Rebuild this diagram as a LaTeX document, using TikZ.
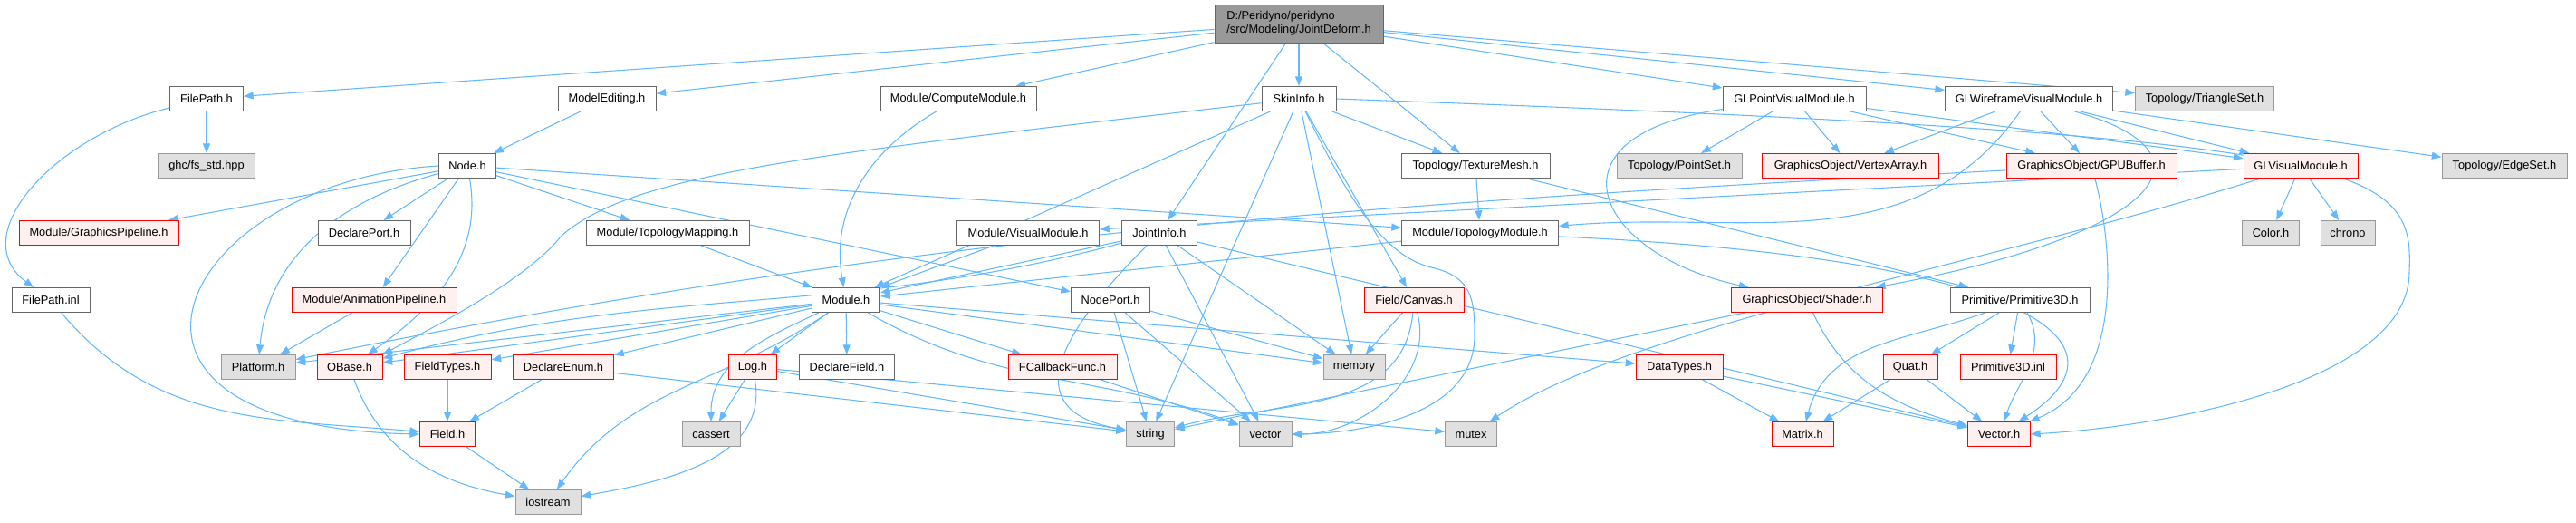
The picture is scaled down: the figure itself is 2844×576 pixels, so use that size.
\documentclass[tikz,border=0pt]{standalone}
\usepackage{fontspec}
\setmainfont{Liberation Sans}
\usetikzlibrary{arrows.meta, backgrounds}

\definecolor{edgeblue}{RGB}{99,184,255}
\definecolor{lineg}{RGB}{102,102,102}
\definecolor{rootfill}{RGB}{153,153,153}
\definecolor{sysline}{RGB}{153,153,153}
\definecolor{sysfill}{RGB}{224,224,224}
\definecolor{redfill}{RGB}{255,240,240}

\begin{document}
\begin{tikzpicture}[
    x=0.75pt, y=-0.75pt,
    file/.style={draw=lineg, fill=white, line width=0.75pt, minimum height=20.25pt, inner sep=0pt, font=\fontsize{9.6}{11}\selectfont},
    sysfile/.style={file, draw=sysline, fill=sysfill},
    badfile/.style={file, draw=red, fill=redfill},
    rootfile/.style={file, fill=rootfill, minimum height=31.5pt, align=left},
    wd/.style={minimum width=#1*0.75pt},
    dep/.style={-{Triangle[length=8pt,width=6pt]}, draw=edgeblue, line width=0.8pt}
]
\useasboundingbox (0,0) rectangle (2844,576);

% Root file
\node[rootfile, wd=186] (root) at (1434,26) {D:/Peridyno/peridyno\\/src/Modeling/JointDeform.h};

% Row 1
\node[file, wd=81] (fpath) at (228,109) {FilePath.h};
\node[file, wd=108] (medit) at (670,109) {ModelEditing.h};
\node[file, wd=172] (cmod) at (1058,109) {Module/ComputeModule.h};
\node[file, wd=82] (skin) at (1434,109) {SkinInfo.h};
\node[file, wd=158] (glpt) at (1981,109) {GLPointVisualModule.h};
\node[file, wd=185] (glwf) at (2240,109) {GLWireframeVisualModule.h};
\node[sysfile, wd=153] (triset) at (2434,109) {Topology/TriangleSet.h};

% Row 2
\node[sysfile, wd=107] (ghc) at (228,183) {ghc/fs\_std.hpp};
\node[file, wd=63] (noden) at (516,183) {Node.h};
\node[file, wd=164] (tmesh) at (1629,183) {Topology/TextureMesh.h};
\node[sysfile, wd=138] (ptset) at (1854,183) {Topology/PointSet.h};
\node[badfile, wd=195] (vao) at (2043,183) {GraphicsObject/VertexArray.h};
\node[badfile, wd=188] (gpubuf) at (2309,183) {GraphicsObject/GPUBuffer.h};
\node[badfile, wd=126] (glvis) at (2540,183) {GLVisualModule.h};
\node[sysfile, wd=138] (edgeset) at (2765,183) {Topology/EdgeSet.h};

% Row 3
\node[badfile, wd=176] (gpipe) at (109,257) {Module/GraphicsPipeline.h};
\node[file, wd=102] (dport) at (402,257) {DeclarePort.h};
\node[file, wd=180] (tmap) at (737,257) {Module/TopologyMapping.h};
\node[file, wd=157] (vmod) at (1135,257) {Module/VisualModule.h};
\node[file, wd=83] (jinfo) at (1280,257) {JointInfo.h};
\node[file, wd=173] (tmod) at (1634,257) {Module/TopologyModule.h};
\node[sysfile, wd=63] (color) at (2507,257) {Color.h};
\node[sysfile, wd=60] (chrono) at (2592,257) {chrono};

% Row 4
\node[file, wd=86] (fpinl) at (56,331) {FilePath.inl};
\node[badfile, wd=182] (apipe) at (413,331) {Module/AnimationPipeline.h};
\node[file, wd=75] (modh) at (934,331) {Module.h};
\node[file, wd=87] (nport) at (1226,331) {NodePort.h};
\node[badfile, wd=110] (canvas) at (1561,331) {Field/Canvas.h};
\node[badfile, wd=167] (shader) at (1995,331) {GraphicsObject/Shader.h};
\node[file, wd=154] (prim) at (2230,331) {Primitive/Primitive3D.h};

% Row 5
\node[sysfile, wd=82] (platform) at (285,405) {Platform.h};
\node[badfile, wd=72] (obase) at (386,405) {OBase.h};
\node[badfile, wd=96] (ftypes) at (494,405) {FieldTypes.h};
\node[badfile, wd=111] (denum) at (622,405) {DeclareEnum.h};
\node[badfile, wd=53] (logh) at (831,405) {Log.h};
\node[file, wd=105] (dfield) at (935,405) {DeclareField.h};
\node[badfile, wd=120] (fcb) at (1173,405) {FCallbackFunc.h};
\node[sysfile, wd=68] (memory) at (1495,405) {memory};
\node[badfile, wd=96] (dtypes) at (1854,405) {DataTypes.h};
\node[badfile, wd=60] (quat) at (2109,405) {Quat.h};
\node[badfile, wd=106] (priminl) at (2217,405) {Primitive3D.inl};

% Row 6
\node[badfile, wd=61] (field) at (494,479) {Field.h};
\node[sysfile, wd=64] (cassert) at (785,479) {cassert};
\node[sysfile, wd=53] (str) at (1270,479) {string};
\node[sysfile, wd=58] (vec) at (1397,479) {vector};
\node[sysfile, wd=57] (mutex) at (1624,479) {mutex};
\node[badfile, wd=68] (matrix) at (1990,479) {Matrix.h};
\node[badfile, wd=69] (vech) at (2207,479) {Vector.h};

% Row 7
\node[sysfile, wd=72] (iostream) at (605,554) {iostream};

\begin{scope}[on background layer]
% Root includes
\draw[dep] (root) -- (fpath);
\draw[dep] (root) -- (medit);
\draw[dep] (root) -- (cmod);
\draw[dep] (root) -- (skin);
\draw[dep] (root) -- (jinfo);
\draw[dep] (root) -- (tmesh);
\draw[dep] (root) -- (glpt);
\draw[dep] (root) -- (glwf);
\draw[dep] (root) -- (triset);

% FilePath
\draw[dep] (fpath) -- (ghc);
\draw[dep] (fpath) .. controls (60,150) and (-40,260) .. (fpinl);
\draw[dep] (fpinl) to[out=-50,in=175] (field);
\draw[dep] (medit) -- (noden);
\draw[dep] (cmod) to[out=210,in=100] (modh);

% Node.h
\draw[dep] (noden) -- (gpipe);
\draw[dep] (noden) -- (dport);
\draw[dep] (noden) -- (apipe);
\draw[dep] (noden) -- (tmap);
\draw[dep] (noden) -- (tmod);
\draw[dep] (noden) -- (nport);
\draw[dep] (noden) to[out=195,in=85] (platform);
\draw[dep] (noden) to[out=-80,in=35] (obase);
\draw[dep] (noden.west) .. controls (200,200) and (60,470) .. (field.west);
\draw[dep] (apipe) -- (platform);

% SkinInfo
\draw[dep] (skin) -- (tmesh);
\draw[dep] (skin) -- (modh);
\draw[dep] (skin) .. controls (900,170) and (700,190) .. (620,260) .. controls (580,310) and (480,360) .. (obase.north east);
\draw[dep] (skin) -- (str);
\draw[dep] (skin) -- (memory);
\draw[dep] (skin) -- (canvas);
\draw[dep] (skin) .. controls (1480,200) and (1520,280) .. (1580,295) .. controls (1625,305) and (1628,330) .. (1628,370) .. controls (1628,460) and (1500,478) .. (vec.east);
\draw[dep] (skin.east) .. controls (2620,150) and (2665,180) .. (2660,300) .. controls (2660,420) and (2400,470) .. (vech.east);

% JointInfo
\draw[dep] (jinfo) -- (modh);
\draw[dep] (jinfo) to[out=195,in=15] (obase);
\draw[dep] (jinfo) to[out=225,in=170,looseness=1.6] (str);
\draw[dep] (jinfo) -- (vec);
\draw[dep] (jinfo) -- (memory);
\draw[dep] (jinfo) -- (vech);

% Modules
\draw[dep] (tmap) -- (modh);
\draw[dep] (vmod) -- (modh);
\draw[dep] (tmod) -- (modh);
\draw[dep] (tmod) .. controls (2250,285) and (2360,380) .. (vech);
\draw[dep] (tmesh) -- (tmod);
\draw[dep] (tmesh) -- (prim);

% Module.h
\draw[dep] (modh) -- (platform);
\draw[dep] (modh) -- (obase);
\draw[dep] (modh) -- (ftypes);
\draw[dep] (modh) -- (denum);
\draw[dep] (modh) to[out=215,in=55] (iostream);
\draw[dep] (modh) to[out=205,in=90] (cassert);
\draw[dep] (modh) -- (logh);
\draw[dep] (modh) -- (dfield);
\draw[dep] (modh) -- (fcb);
\draw[dep] (modh) to[out=-30,in=160] (vec);
\draw[dep] (modh) -- (memory);
\draw[dep] (modh) -- (dtypes);

% NodePort
\draw[dep] (nport) -- (str);
\draw[dep] (nport) -- (vec);
\draw[dep] (nport) -- (memory);

% Small headers
\draw[dep] (logh) -- (cassert);
\draw[dep] (logh) -- (str);
\draw[dep] (logh) -- (mutex);
\draw[dep] (logh) to[out=-80,in=10] (iostream);
\draw[dep] (denum) -- (field);
\draw[dep] (denum) -- (str);
\draw[dep] (ftypes) -- (field);
\draw[dep] (obase) to[out=-70,in=170] (iostream);
\draw[dep] (field) -- (iostream);
\draw[dep] (fcb) -- (vec);
\draw[dep] (canvas) -- (memory);
\draw[dep] (canvas) to[out=-95,in=15] (str);
\draw[dep] (canvas) to[out=-75,in=0] (vec);

% Math
\draw[dep] (dtypes) -- (matrix);
\draw[dep] (dtypes) -- (vech);
\draw[dep] (quat) -- (matrix);
\draw[dep] (quat) -- (vech);
\draw[dep] (prim) -- (quat);
\draw[dep] (prim) -- (priminl);
\draw[dep] (prim) to[out=-60,in=70] (vech);
\draw[dep] (prim) to[out=200,in=75] (matrix);

% Rendering
\draw[dep] (glpt) -- (ptset);
\draw[dep] (glpt) -- (vao);
\draw[dep] (glpt) -- (gpubuf);
\draw[dep] (glpt) -- (glvis);
\draw[dep] (glpt) .. controls (1700,150) and (1760,280) .. (shader);
\draw[dep] (glwf) -- (vao);
\draw[dep] (glwf) -- (gpubuf);
\draw[dep] (glwf) -- (glvis);
\draw[dep] (glwf) -- (edgeset);
\draw[dep] (glwf) .. controls (2460,170) and (2380,260) .. (shader);
\draw[dep] (glwf) to[out=235,in=5] (tmod);
\draw[dep] (gpubuf) .. controls (1500,225) and (1000,260) .. (platform);
\draw[dep] (gpubuf) .. controls (2330,260) and (2350,420) .. (vech);
\draw[dep] (glvis) -- (vmod);
\draw[dep] (glvis) -- (color);
\draw[dep] (glvis) -- (chrono);
\draw[dep] (glvis) .. controls (2200,290) and (1800,360) .. (mutex);
\draw[dep] (shader) -- (str);
\draw[dep] (shader) to[out=-65,in=165] (vech);
\end{scope}

\end{tikzpicture}
\end{document}
